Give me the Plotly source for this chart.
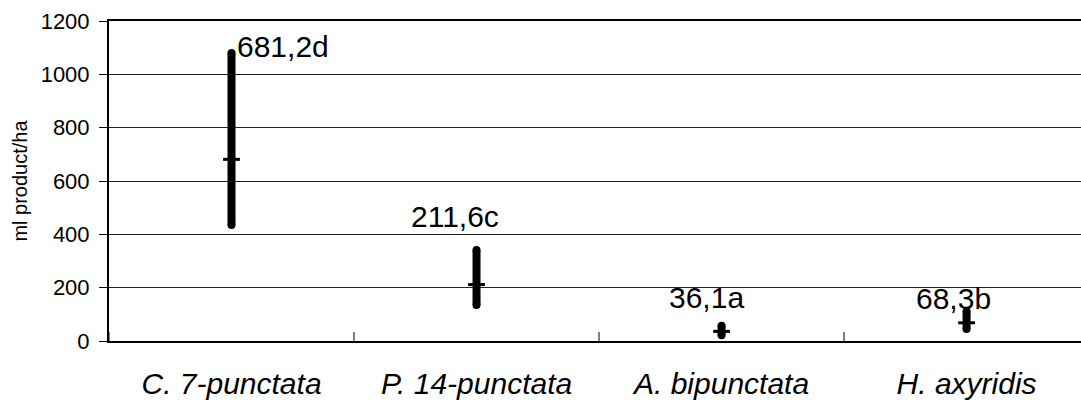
import plotly.graph_objects as go

categories = ["C. 7-punctata", "P. 14-punctata", "A. bipunctata", "H. axyridis"]
means = [681.2, 211.6, 36.1, 68.3]
lows = [435, 135, 22, 45]
highs = [1080, 341, 57, 112]
labels = ["681,2d", "211,6c", "36,1a", "68,3b"]
y_ticks = [0, 200, 400, 600, 800, 1000, 1200]

FONT = "Arial, Liberation Sans, sans-serif"
xs = list(range(len(categories)))

rx, ry = [], []
for i, (lo, hi) in enumerate(zip(lows, highs)):
    rx += [i, i, None]
    ry += [lo, hi, None]

fig = go.Figure()
fig.add_trace(go.Scatter(
    x=rx, y=ry, mode="lines+markers",
    line=dict(color="black", width=8),
    marker=dict(color="black", size=8, symbol="circle"),
    hoverinfo="skip", showlegend=False,
))
fig.add_trace(go.Scatter(
    x=xs, y=means, mode="markers",
    marker=dict(symbol="line-ew", size=12, line=dict(color="black", width=3)),
    showlegend=False,
))

# data labels (offsets are styling)
label_style = [
    dict(xanchor="left", xshift=3, yshift=7),
    dict(xanchor="center", xshift=-22, yshift=34),
    dict(xanchor="center", xshift=-15, yshift=28),
    dict(xanchor="center", xshift=-13, yshift=13),
]
for i, (lab, hi) in enumerate(zip(labels, highs)):
    fig.add_annotation(
        x=i, y=hi, text=lab, showarrow=False, yanchor="middle",
        font=dict(family=FONT, size=30, color="black"),
        **label_style[i],
    )

# category boundary ticks crossing the x axis
for b in [-0.5, 0.5, 1.5, 2.5]:
    fig.add_shape(
        type="line", xref="x", yref="y", x0=b, x1=b,
        ysizemode="pixel", yanchor=0, y0=-9, y1=9,
        line=dict(color="black", width=1),
    )

fig.update_layout(
    width=1081, height=406,
    margin=dict(l=109, r=0, t=21, b=65),
    paper_bgcolor="white", plot_bgcolor="white",
    font=dict(family=FONT, color="black"),
    xaxis=dict(
        range=[-0.5, 3.467], tickvals=xs,
        ticktext=[f"<i>{c}</i>" for c in categories],
        tickfont=dict(size=30), ticks="", showgrid=False, zeroline=False,
        showline=True, linecolor="black", linewidth=2, mirror=True,
        ticklabelstandoff=15,
    ),
    yaxis=dict(
        range=[0, 1200], tickvals=y_ticks, ticks="outside", ticklen=8,
        tickcolor="black", tickfont=dict(size=22), ticklabelstandoff=5,
        showgrid=True, gridcolor="#222222", gridwidth=1, zeroline=False,
        showline=True, linecolor="black", linewidth=2,
        title=dict(text="ml product/ha", font=dict(size=20), standoff=8),
    ),
)

fig.write_html("out.html")
